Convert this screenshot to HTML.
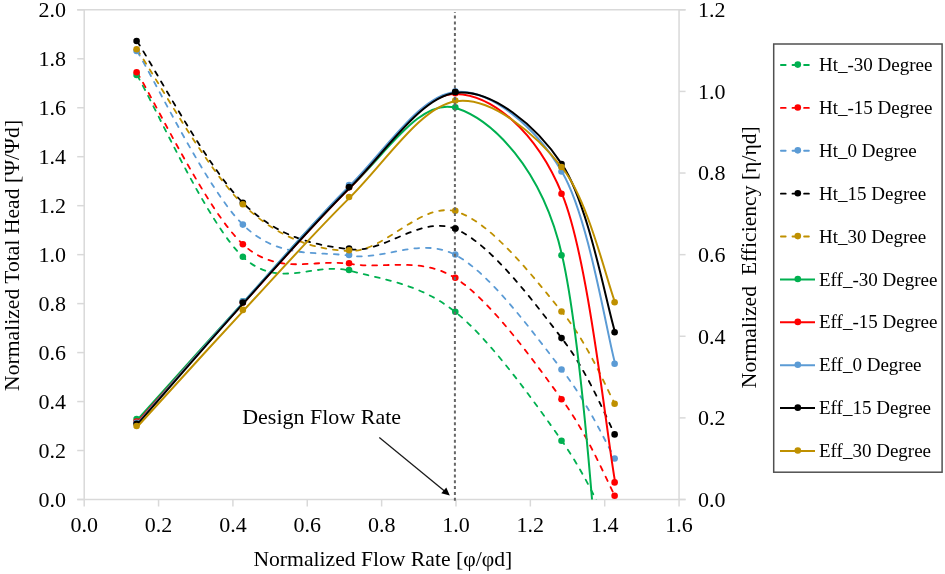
<!DOCTYPE html><html><head><meta charset="utf-8"><style>html,body{margin:0;padding:0;background:#fff;width:945px;height:574px;overflow:hidden}svg{display:block}</style></head><body>
<svg style="will-change:transform" width="945" height="574" viewBox="0 0 945 574">
<defs><clipPath id="pa"><rect x="84.2" y="9.8" width="594.9" height="489.7"/></clipPath></defs>
<g stroke="#d9d9d9" stroke-width="1.5" fill="none">
<path d="M84.2,9.8 V499.5 M679.06,9.8 V499.5 M77.2,499.5 H685.56 M77.2,9.8 H685.56"/>
<path d="M77.2,499.50 H84.2"/>
<path d="M77.2,450.53 H84.2"/>
<path d="M77.2,401.56 H84.2"/>
<path d="M77.2,352.59 H84.2"/>
<path d="M77.2,303.62 H84.2"/>
<path d="M77.2,254.65 H84.2"/>
<path d="M77.2,205.68 H84.2"/>
<path d="M77.2,156.71 H84.2"/>
<path d="M77.2,107.74 H84.2"/>
<path d="M77.2,58.77 H84.2"/>
<path d="M77.2,9.80 H84.2"/>
<path d="M679.06,499.50 H685.56"/>
<path d="M679.06,417.88 H685.56"/>
<path d="M679.06,336.27 H685.56"/>
<path d="M679.06,254.65 H685.56"/>
<path d="M679.06,173.03 H685.56"/>
<path d="M679.06,91.42 H685.56"/>
<path d="M679.06,9.80 H685.56"/>
<path d="M84.20,499.5 V506.5"/>
<path d="M158.56,499.5 V506.5"/>
<path d="M232.91,499.5 V506.5"/>
<path d="M307.27,499.5 V506.5"/>
<path d="M381.63,499.5 V506.5"/>
<path d="M455.99,499.5 V506.5"/>
<path d="M530.35,499.5 V506.5"/>
<path d="M604.70,499.5 V506.5"/>
<path d="M679.06,499.5 V506.5"/>
</g>
<g font-family="'Liberation Serif', serif" font-size="22" fill="#000">
<text x="66" y="506.80" text-anchor="end">0.0</text>
<text x="66" y="457.83" text-anchor="end">0.2</text>
<text x="66" y="408.86" text-anchor="end">0.4</text>
<text x="66" y="359.89" text-anchor="end">0.6</text>
<text x="66" y="310.92" text-anchor="end">0.8</text>
<text x="66" y="261.95" text-anchor="end">1.0</text>
<text x="66" y="212.98" text-anchor="end">1.2</text>
<text x="66" y="164.01" text-anchor="end">1.4</text>
<text x="66" y="115.04" text-anchor="end">1.6</text>
<text x="66" y="66.07" text-anchor="end">1.8</text>
<text x="66" y="17.10" text-anchor="end">2.0</text>
<text x="698" y="506.80">0.0</text>
<text x="698" y="425.18">0.2</text>
<text x="698" y="343.57">0.4</text>
<text x="698" y="261.95">0.6</text>
<text x="698" y="180.33">0.8</text>
<text x="698" y="98.72">1.0</text>
<text x="698" y="17.10">1.2</text>
<text x="84.20" y="532" text-anchor="middle">0.0</text>
<text x="158.56" y="532" text-anchor="middle">0.2</text>
<text x="232.91" y="532" text-anchor="middle">0.4</text>
<text x="307.27" y="532" text-anchor="middle">0.6</text>
<text x="381.63" y="532" text-anchor="middle">0.8</text>
<text x="455.99" y="532" text-anchor="middle">1.0</text>
<text x="530.35" y="532" text-anchor="middle">1.2</text>
<text x="604.70" y="532" text-anchor="middle">1.4</text>
<text x="679.06" y="532" text-anchor="middle">1.6</text>
</g>
<text font-family="'Liberation Serif', serif" font-size="21.65" x="382.8" y="565.7" text-anchor="middle">Normalized Flow Rate [φ/φd]</text>
<text font-family="'Liberation Serif', serif" font-size="21.65" transform="translate(18.6,255.4) rotate(-90)" text-anchor="middle">Normalized Total Head [Ψ/Ψd]</text>
<text font-family="'Liberation Serif', serif" font-size="21.65" transform="translate(756,257.2) rotate(-90)" text-anchor="middle">Normalized&#160; Efficiency [η/ηd]</text>
<g clip-path="url(#pa)" fill="none">
<path d="M137.31,75.63 C155.02,105.94 208.13,224.98 243.54,257.50 C278.95,290.02 314.35,261.59 349.76,270.75 C385.17,279.92 420.58,284.05 455.99,312.50 C491.40,340.94 535.66,403.60 562.21,441.41 C588.77,479.22 606.47,523.05 615.32,539.38" stroke="#00b050" stroke-width="1.8" stroke-linecap="round" stroke-dasharray="4.8 6.8"/>
<path d="M137.31,72.94 C155.02,101.60 208.13,213.07 243.54,244.89 C278.95,276.72 314.35,258.30 349.76,263.90 C385.17,269.49 420.58,255.82 455.99,278.49 C491.40,301.16 535.66,363.57 562.21,399.91 C588.77,436.25 606.47,480.40 615.32,496.50" stroke="#ff0000" stroke-width="1.8" stroke-linecap="round" stroke-dasharray="4.8 6.8"/>
<path d="M137.31,51.63 C155.02,80.58 208.13,191.30 243.54,225.31 C278.95,259.32 314.35,250.71 349.76,255.69 C385.17,260.68 420.58,236.12 455.99,255.20 C491.40,274.29 535.66,336.18 562.21,370.18 C588.77,404.19 606.47,444.37 615.32,459.21" stroke="#5b9bd5" stroke-width="1.8" stroke-linecap="round" stroke-dasharray="4.8 6.8"/>
<path d="M137.31,41.69 C155.02,68.64 208.13,168.79 243.54,203.39 C278.95,237.99 314.35,245.00 349.76,249.30 C385.17,253.60 420.58,214.28 455.99,229.20 C491.40,244.12 535.66,304.48 562.21,338.79 C588.77,373.11 606.47,419.04 615.32,435.09" stroke="#000000" stroke-width="1.8" stroke-linecap="round" stroke-dasharray="4.8 6.8"/>
<path d="M137.31,49.92 C155.02,75.77 208.13,171.50 243.54,205.01 C278.95,238.52 314.35,249.91 349.76,250.99 C385.17,252.08 420.58,201.32 455.99,211.52 C491.40,221.72 535.66,280.04 562.21,312.20 C588.77,344.37 606.47,389.11 615.32,404.49" stroke="#bf9000" stroke-width="1.8" stroke-linecap="round" stroke-dasharray="4.8 6.8"/>
<circle cx="136.61" cy="74.93" r="3.3" fill="#00b050"/>
<circle cx="242.84" cy="256.80" r="3.3" fill="#00b050"/>
<circle cx="349.06" cy="270.05" r="3.3" fill="#00b050"/>
<circle cx="455.29" cy="311.80" r="3.3" fill="#00b050"/>
<circle cx="561.51" cy="440.71" r="3.3" fill="#00b050"/>
<circle cx="614.62" cy="538.68" r="3.3" fill="#00b050"/>
<circle cx="136.61" cy="72.24" r="3.3" fill="#ff0000"/>
<circle cx="242.84" cy="244.19" r="3.3" fill="#ff0000"/>
<circle cx="349.06" cy="263.20" r="3.3" fill="#ff0000"/>
<circle cx="455.29" cy="277.79" r="3.3" fill="#ff0000"/>
<circle cx="561.51" cy="399.21" r="3.3" fill="#ff0000"/>
<circle cx="614.62" cy="495.80" r="3.3" fill="#ff0000"/>
<circle cx="136.61" cy="50.93" r="3.3" fill="#5b9bd5"/>
<circle cx="242.84" cy="224.61" r="3.3" fill="#5b9bd5"/>
<circle cx="349.06" cy="254.99" r="3.3" fill="#5b9bd5"/>
<circle cx="455.29" cy="254.50" r="3.3" fill="#5b9bd5"/>
<circle cx="561.51" cy="369.48" r="3.3" fill="#5b9bd5"/>
<circle cx="614.62" cy="458.51" r="3.3" fill="#5b9bd5"/>
<circle cx="136.61" cy="40.99" r="3.3" fill="#000000"/>
<circle cx="242.84" cy="202.69" r="3.3" fill="#000000"/>
<circle cx="349.06" cy="248.60" r="3.3" fill="#000000"/>
<circle cx="455.29" cy="228.50" r="3.3" fill="#000000"/>
<circle cx="561.51" cy="338.09" r="3.3" fill="#000000"/>
<circle cx="614.62" cy="434.39" r="3.3" fill="#000000"/>
<circle cx="136.61" cy="49.22" r="3.3" fill="#bf9000"/>
<circle cx="242.84" cy="204.31" r="3.3" fill="#bf9000"/>
<circle cx="349.06" cy="250.29" r="3.3" fill="#bf9000"/>
<circle cx="455.29" cy="210.82" r="3.3" fill="#bf9000"/>
<circle cx="561.51" cy="311.50" r="3.3" fill="#bf9000"/>
<circle cx="614.62" cy="403.79" r="3.3" fill="#bf9000"/>
<path d="M137.31,419.81 C155.02,400.19 208.13,340.78 243.54,302.08 C278.95,263.38 314.35,219.95 349.76,187.61 C385.17,155.27 420.58,96.64 455.99,108.03 C491.40,119.42 541.95,167.19 562.21,255.96 C588.77,372.33 606.47,714.55 615.32,806.26" stroke="#00b050" stroke-width="2.0"/>
<circle cx="136.61" cy="419.11" r="3.3" fill="#00b050"/>
<circle cx="242.84" cy="301.38" r="3.3" fill="#00b050"/>
<circle cx="349.06" cy="186.91" r="3.3" fill="#00b050"/>
<circle cx="455.29" cy="107.33" r="3.3" fill="#00b050"/>
<circle cx="561.51" cy="255.26" r="3.3" fill="#00b050"/>
<circle cx="614.62" cy="805.56" r="3.3" fill="#00b050"/>
<path d="M137.31,422.26 C155.02,402.40 208.13,342.14 243.54,303.10 C278.95,264.06 314.35,222.88 349.76,188.02 C385.17,153.15 420.58,92.85 455.99,93.91 C491.40,94.97 535.66,129.52 562.21,194.38 C588.77,259.25 606.47,434.98 615.32,483.10" stroke="#ff0000" stroke-width="2.0"/>
<circle cx="136.61" cy="421.56" r="3.3" fill="#ff0000"/>
<circle cx="242.84" cy="302.40" r="3.3" fill="#ff0000"/>
<circle cx="349.06" cy="187.32" r="3.3" fill="#ff0000"/>
<circle cx="455.29" cy="93.21" r="3.3" fill="#ff0000"/>
<circle cx="561.51" cy="193.68" r="3.3" fill="#ff0000"/>
<circle cx="614.62" cy="482.40" r="3.3" fill="#ff0000"/>
<path d="M137.31,423.48 C155.02,403.25 208.13,341.69 243.54,302.08 C278.95,262.46 314.35,220.80 349.76,185.77 C385.17,150.74 420.58,94.18 455.99,91.91 C491.40,89.65 535.66,126.75 562.21,172.18 C588.77,217.62 606.47,332.46 615.32,364.51" stroke="#5b9bd5" stroke-width="2.0"/>
<circle cx="136.61" cy="422.78" r="3.3" fill="#5b9bd5"/>
<circle cx="242.84" cy="301.38" r="3.3" fill="#5b9bd5"/>
<circle cx="349.06" cy="185.07" r="3.3" fill="#5b9bd5"/>
<circle cx="455.29" cy="91.21" r="3.3" fill="#5b9bd5"/>
<circle cx="561.51" cy="171.48" r="3.3" fill="#5b9bd5"/>
<circle cx="614.62" cy="363.81" r="3.3" fill="#5b9bd5"/>
<path d="M137.31,424.50 C155.02,404.28 208.13,342.63 243.54,303.18 C278.95,263.73 314.35,222.89 349.76,187.81 C385.17,152.74 420.58,96.59 455.99,92.73 C491.40,88.87 535.66,124.63 562.21,164.67 C588.77,204.72 606.47,304.95 615.32,333.01" stroke="#000000" stroke-width="2.0"/>
<circle cx="136.61" cy="423.80" r="3.3" fill="#000000"/>
<circle cx="242.84" cy="302.48" r="3.3" fill="#000000"/>
<circle cx="349.06" cy="187.11" r="3.3" fill="#000000"/>
<circle cx="455.29" cy="92.03" r="3.3" fill="#000000"/>
<circle cx="561.51" cy="163.97" r="3.3" fill="#000000"/>
<circle cx="614.62" cy="332.31" r="3.3" fill="#000000"/>
<path d="M137.31,426.75 C155.02,407.39 208.13,348.79 243.54,310.60 C278.95,272.42 314.35,232.53 349.76,197.65 C385.17,162.76 420.58,106.29 455.99,101.30 C491.40,96.31 535.66,134.07 562.21,167.69 C588.77,201.31 606.47,280.46 615.32,303.01" stroke="#bf9000" stroke-width="2.0"/>
<circle cx="136.61" cy="426.05" r="3.3" fill="#bf9000"/>
<circle cx="242.84" cy="309.90" r="3.3" fill="#bf9000"/>
<circle cx="349.06" cy="196.95" r="3.3" fill="#bf9000"/>
<circle cx="455.29" cy="100.60" r="3.3" fill="#bf9000"/>
<circle cx="561.51" cy="166.99" r="3.3" fill="#bf9000"/>
<circle cx="614.62" cy="302.31" r="3.3" fill="#bf9000"/>
</g>
<path d="M454.9,12 V501" stroke="#666666" stroke-width="2" stroke-dasharray="3.0 2.809" stroke-dashoffset="2.229"/>
<circle cx="455.29" cy="228.50" r="3.3" fill="#000"/>
<circle cx="455.29" cy="92.03" r="3.3" fill="#000"/>
<text font-family="'Liberation Serif', serif" font-size="22" x="242.2" y="423.6">Design Flow Rate</text>
<path d="M379.3,437.4 L444.5,491" stroke="#1a1a1a" stroke-width="1.3"/>
<path d="M449.8,495.4 L441.3,493.2 L446.3,487.6 Z" fill="#000"/>
<rect x="773.7" y="44.0" width="168.4" height="428.2" fill="#fff" stroke="#505050" stroke-width="1.5"/>
<path d="M780.9,65.00 H815" stroke="#00b050" stroke-width="1.8" stroke-linecap="round" stroke-dasharray="4.8 6.8"/>
<circle cx="797.8" cy="64.60" r="3.3" fill="#00b050"/>
<text font-family="'Liberation Serif', serif" font-size="19" x="819" y="71.20">Ht_-30 Degree</text>
<path d="M780.9,107.88 H815" stroke="#ff0000" stroke-width="1.8" stroke-linecap="round" stroke-dasharray="4.8 6.8"/>
<circle cx="797.8" cy="107.48" r="3.3" fill="#ff0000"/>
<text font-family="'Liberation Serif', serif" font-size="19" x="819" y="114.08">Ht_-15 Degree</text>
<path d="M780.9,150.76 H815" stroke="#5b9bd5" stroke-width="1.8" stroke-linecap="round" stroke-dasharray="4.8 6.8"/>
<circle cx="797.8" cy="150.36" r="3.3" fill="#5b9bd5"/>
<text font-family="'Liberation Serif', serif" font-size="19" x="819" y="156.96">Ht_0 Degree</text>
<path d="M780.9,193.64 H815" stroke="#000000" stroke-width="1.8" stroke-linecap="round" stroke-dasharray="4.8 6.8"/>
<circle cx="797.8" cy="193.24" r="3.3" fill="#000000"/>
<text font-family="'Liberation Serif', serif" font-size="19" x="819" y="199.84">Ht_15 Degree</text>
<path d="M780.9,236.52 H815" stroke="#bf9000" stroke-width="1.8" stroke-linecap="round" stroke-dasharray="4.8 6.8"/>
<circle cx="797.8" cy="236.12" r="3.3" fill="#bf9000"/>
<text font-family="'Liberation Serif', serif" font-size="19" x="819" y="242.72">Ht_30 Degree</text>
<path d="M780,279.40 H815" stroke="#00b050" stroke-width="2.0"/>
<circle cx="797.8" cy="279.00" r="3.3" fill="#00b050"/>
<text font-family="'Liberation Serif', serif" font-size="19" x="819" y="285.60">Eff_-30 Degree</text>
<path d="M780,322.28 H815" stroke="#ff0000" stroke-width="2.0"/>
<circle cx="797.8" cy="321.88" r="3.3" fill="#ff0000"/>
<text font-family="'Liberation Serif', serif" font-size="19" x="819" y="328.48">Eff_-15 Degree</text>
<path d="M780,365.16 H815" stroke="#5b9bd5" stroke-width="2.0"/>
<circle cx="797.8" cy="364.76" r="3.3" fill="#5b9bd5"/>
<text font-family="'Liberation Serif', serif" font-size="19" x="819" y="371.36">Eff_0 Degree</text>
<path d="M780,408.04 H815" stroke="#000000" stroke-width="2.0"/>
<circle cx="797.8" cy="407.64" r="3.3" fill="#000000"/>
<text font-family="'Liberation Serif', serif" font-size="19" x="819" y="414.24">Eff_15 Degree</text>
<path d="M780,450.92 H815" stroke="#bf9000" stroke-width="2.0"/>
<circle cx="797.8" cy="450.52" r="3.3" fill="#bf9000"/>
<text font-family="'Liberation Serif', serif" font-size="19" x="819" y="457.12">Eff_30 Degree</text>
</svg></body></html>
